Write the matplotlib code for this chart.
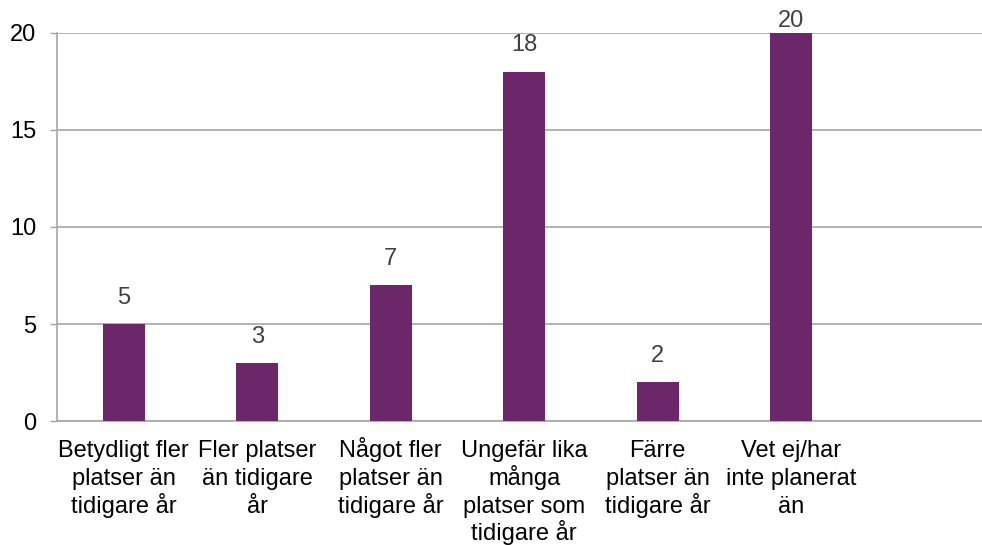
import matplotlib
matplotlib.use("Agg")
import matplotlib.pyplot as plt

categories = [
    "Betydligt fler\nplatser än\ntidigare år",
    "Fler platser\nän tidigare\når",
    "Något fler\nplatser än\ntidigare år",
    "Ungefär lika\nmånga\nplatser som\ntidigare år",
    "Färre\nplatser än\ntidigare år",
    "Vet ej/har\ninte planerat\nän",
    "",
]
values = [5, 3, 7, 18, 2, 20, 0]
yticks = [0, 5, 10, 15, 20]

bar_color = "#6B2769"
grid_color = "#A6A6A6"

plt.rcParams["font.family"] = ["Liberation Sans", "DejaVu Sans"]

fig = plt.figure(figsize=(9.82, 5.45), dpi=100)
ax = fig.add_axes([0.058, 0.2275, 0.942, 0.712])

x = list(range(len(categories)))
bars = ax.bar(x, values, width=0.315, color=bar_color, zorder=3)

ymax = 20
ax.set_ylim(0, ymax)
ax.set_xlim(-0.5, 6.43)
ax.set_yticks(yticks)
ax.set_xticks(x)
ax.set_xticklabels([])
ax.tick_params(axis="x", length=0)
ax.tick_params(axis="y", length=5, width=1, color=grid_color, labelsize=17, pad=10)

# category labels line by line, so every first line sits on the same baseline
for xi, cat in zip(x, categories):
    for i, line in enumerate(cat.split("\n")):
        if not line:
            continue
        ax.annotate(line, xy=(xi, 0), xycoords=("data", "axes fraction"),
                    xytext=(0, -26 - i * 20), textcoords="offset points",
                    ha="center", va="baseline", fontsize=17, color="black",
                    annotation_clip=False)

ax.yaxis.grid(True, color=grid_color, linewidth=1.2, zorder=0)
for side in ["top", "right"]:
    ax.spines[side].set_visible(False)
for side in ["left", "bottom"]:
    ax.spines[side].set_color(grid_color)
    ax.spines[side].set_linewidth(1.2)

# data labels, the top one squeezed in like the original
for xi, v in zip(x, values):
    if v == 0:
        continue
    off = 1 if v >= ymax else 11
    ax.annotate(str(v), xy=(xi, v), xytext=(0, off), textcoords="offset points",
                ha="center", va="bottom", fontsize=17, color="#404040",
                annotation_clip=False)

fig.savefig("out.png", dpi=100)
